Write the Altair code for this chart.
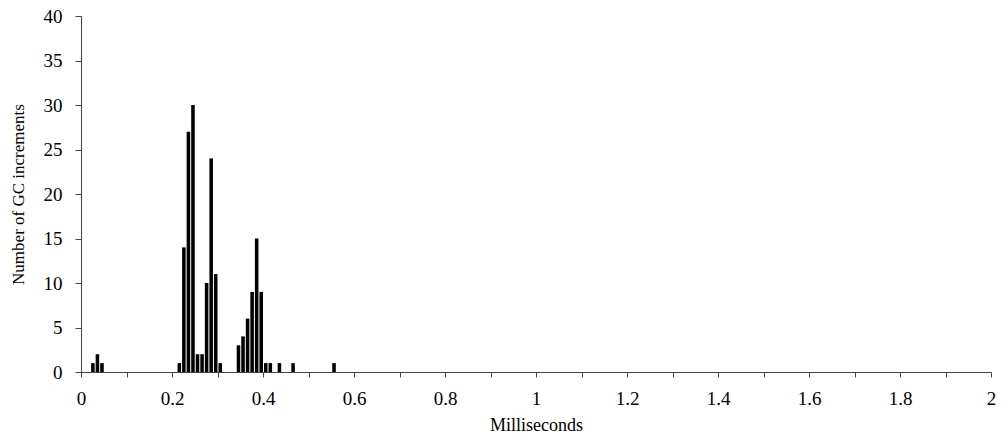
import altair as alt
import pandas as pd

# bin starts (ms) and counts
bin_start = [0.02, 0.03, 0.04,
             0.21, 0.22, 0.23, 0.24, 0.25, 0.26, 0.27, 0.28, 0.29, 0.30,
             0.34, 0.35, 0.36, 0.37, 0.38, 0.39, 0.40, 0.41, 0.43, 0.46, 0.55]
counts = [1, 2, 1,
          1, 14, 27, 30, 2, 2, 10, 24, 11, 1,
          3, 4, 6, 9, 15, 9, 1, 1, 1, 1, 1]
bin_width = 0.01
x_ticks = [round(i * 0.1, 1) for i in range(21)]
y_ticks = list(range(0, 41, 5))

df = pd.DataFrame({"start": bin_start, "count": counts})
df["end"] = [round(s + bin_width, 2) for s in bin_start]

font = "Liberation Serif"

chart = alt.Chart(df).mark_bar(color="black", binSpacing=1).encode(
    x=alt.X("start:Q", bin="binned",
            scale=alt.Scale(domain=[0, 2], nice=False, zero=True),
            axis=alt.Axis(values=x_ticks, title="Milliseconds",
                          labelExpr="round(datum.value*10) % 2 == 0 ? toString(round(datum.value*10)/10) : ''",
                          grid=False, tickSize=5, labelPadding=12,
                          domainColor="#444", tickColor="#444",
                          labelFont=font, labelFontSize=19, labelColor="black",
                          titleFont=font, titleFontSize=18, titleFontWeight="normal",
                          titleColor="black", titleY=53, titleBaseline="middle",
                          labelFlush=False, labelOverlap=False)),
    x2="end:Q",
    y=alt.Y("count:Q",
            scale=alt.Scale(domain=[0, 40], nice=False),
            axis=alt.Axis(values=y_ticks, title="Number of GC increments",
                          grid=False, tickSize=6, labelPadding=13,
                          domainColor="#444", tickColor="#444",
                          labelFont=font, labelFontSize=19, labelColor="black",
                          titleFont=font, titleFontSize=17, titleFontWeight="normal",
                          titleColor="black", titleX=-63, titleY=178,
                          titleAngle=270, titleAlign="center", titleBaseline="middle",
                          labelFlush=False, labelOverlap=False)),
).properties(
    width=910, height=356,
    autosize=alt.AutoSizeParams(type="none"),
    padding={"left": 81, "top": 16, "right": 11, "bottom": 67},
).configure_view(stroke=None)

chart.save("out.html", embed_options={"renderer": "svg", "actions": False})
